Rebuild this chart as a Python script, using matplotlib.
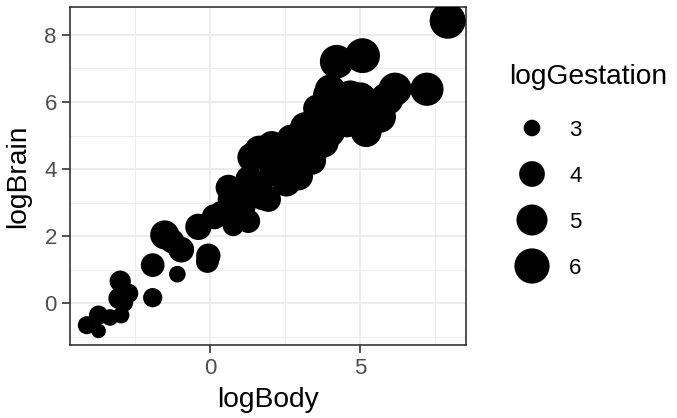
import numpy as np
import matplotlib
matplotlib.use("Agg")
import matplotlib.pyplot as plt
from matplotlib.ticker import MultipleLocator

plt.rcParams['font.family'] = ['Liberation Sans', 'DejaVu Sans']

# mammals: log body weight, log brain weight, log gestation
log_body = [-4.09, -3.70, -3.70, -3.32, -2.95, -2.98, -3.02, -2.70, -2.85, -1.90,
            -1.90, -1.08, -1.50, -0.95, -1.25, -0.05, -0.08, -0.38, 0.15, 0.78,
            1.28, 0.62, 0.68, 1.00, 1.78, 1.95, 1.40, 1.65, 2.06, 2.40,
            2.20, 2.60, 2.95, 2.55, 1.30, 1.55, 2.10, 3.10, 3.40, 3.17,
            3.00, 3.78, 3.56, 3.89, 3.70, 4.00, 4.20, 4.56, 4.67, 5.00,
            5.22, 5.20, 5.44, 5.66, 5.90, 4.22, 5.08, 6.16, 7.22, 7.91,
            3.11, 3.50, 4.40, 4.90, 3.30, 4.00, 2.70, 1.10, 0.40, 2.30]
log_brain = [-0.65, -0.82, -0.35, -0.42, -0.35, 0.66, 0.15, 0.30, 0.02, 0.17,
             1.14, 0.87, 2.04, 1.60, 1.85, 1.42, 1.25, 2.28, 2.58, 2.32,
             2.45, 3.45, 3.10, 3.00, 3.18, 3.10, 4.35, 4.55, 4.70, 4.60,
             4.05, 4.20, 3.80, 3.60, 3.70, 3.40, 3.90, 4.30, 4.25, 5.25,
             4.90, 4.80, 5.81, 6.21, 5.30, 6.36, 5.90, 5.41, 6.16, 6.11,
             5.32, 5.12, 5.91, 5.56, 6.10, 7.20, 7.38, 6.38, 6.38, 8.42,
             5.12, 4.60, 5.60, 5.70, 4.95, 5.10, 4.90, 2.90, 2.70, 4.40]
log_gestation = [3.1, 2.9, 3.2, 3.0, 3.0, 3.4, 3.4, 3.2, 3.1, 3.2,
                 3.7, 3.0, 4.6, 4.0, 3.8, 3.8, 3.6, 4.1, 3.9, 3.4,
                 3.7, 4.0, 3.9, 4.2, 4.3, 3.9, 4.6, 4.8, 4.6, 4.9,
                 4.4, 4.5, 4.6, 4.4, 4.2, 4.0, 4.3, 4.7, 4.4, 4.8,
                 4.5, 4.9, 4.3, 4.3, 4.6, 4.9, 5.0, 5.0, 5.3, 5.2,
                 4.8, 5.0, 5.4, 5.2, 5.4, 5.6, 5.9, 5.5, 5.5, 6.2,
                 4.6, 4.5, 5.0, 5.1, 4.7, 4.7, 4.5, 4.0, 3.8, 4.6]
legend_breaks = [3, 4, 5, 6]

DPI = 100
W, H = 677, 418


def size_px(g):
    # area style size scale: diameter grows with sqrt of rescaled value
    g = np.asarray(g, dtype=float)
    r = np.clip((g - 2.83) / 3.65, 0, 1)
    return 11 + 26 * np.sqrt(r)


def to_s(d):
    return (d * 72.0 / DPI) ** 2


fig = plt.figure(figsize=(W / DPI, H / DPI), dpi=DPI)
ax = fig.add_axes([70 / W, (H - 345) / H, 396 / W, 338 / H])

ax.scatter(log_body, log_brain, s=to_s(size_px(log_gestation)), c='black',
           linewidths=0, zorder=3, clip_on=True)

ax.set_xlim(-4.65, 8.52)
ax.set_ylim(-1.24, 8.83)
ax.xaxis.set_major_locator(MultipleLocator(5))
ax.xaxis.set_minor_locator(MultipleLocator(2.5))
ax.yaxis.set_major_locator(MultipleLocator(2))
ax.yaxis.set_minor_locator(MultipleLocator(1))
ax.grid(True, which='major', color='#EBEBEB', lw=1.3, zorder=0)
ax.grid(True, which='minor', color='#EBEBEB', lw=0.65, zorder=0)
ax.set_axisbelow(True)
for sp in ax.spines.values():
    sp.set_color('#333333')
    sp.set_linewidth(1.2)
ax.tick_params(which='major', length=5.5, width=1.2, color='#333333',
               labelcolor='#4D4D4D', labelsize=16)
ax.tick_params(axis='x', which='major', pad=4)
ax.tick_params(axis='y', which='major', pad=4)
ax.tick_params(which='minor', length=0)
ax.set_xlabel('logBody', fontsize=20.3, color='black')
ax.set_ylabel('logBrain', fontsize=20.3, color='black')
ax.xaxis.set_label_coords(0.5, (345 - 387) / 338)
ax.yaxis.set_label_coords((31 - 70) / 396, 0.5)

# legend drawn in pixel coordinates
lg = fig.add_axes([0, 0, 1, 1], facecolor='none')
lg.set_xlim(0, W)
lg.set_ylim(H, 0)
lg.axis('off')
lg.text(509, 84, 'logGestation', fontsize=20.3, va='baseline', ha='left')
key_y = [128, 174, 220, 266]
lg.scatter([532] * 4, key_y, s=to_s(size_px(legend_breaks)), c='black', linewidths=0)
for yy, b in zip(key_y, legend_breaks):
    lg.text(569, yy + 8, str(b), fontsize=16, va='baseline', ha='left')

fig.savefig('out.png', dpi=DPI)
